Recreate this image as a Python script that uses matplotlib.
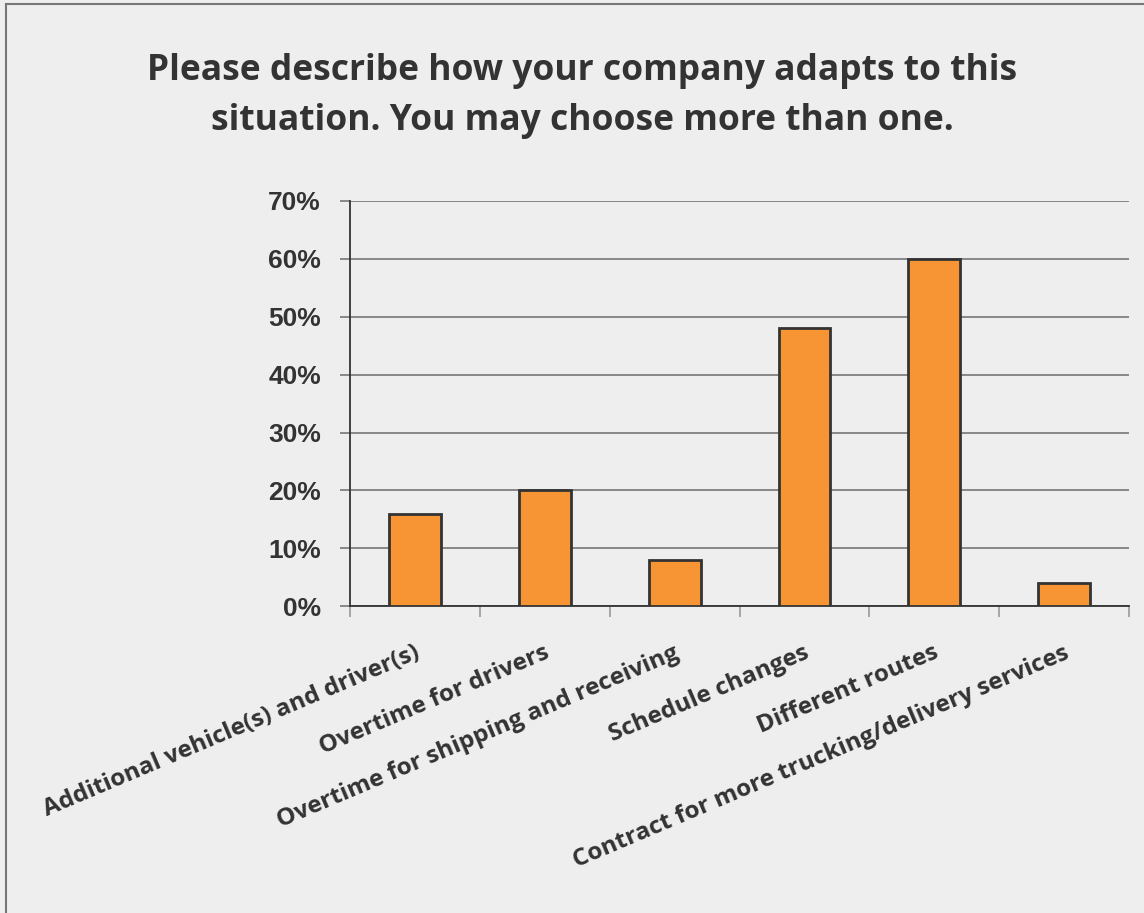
import matplotlib.pyplot as plt
from matplotlib.ticker import PercentFormatter, FixedLocator
import matplotlib.lines as mlines

categories = [
    "Additional vehicle(s) and driver(s)",
    "Overtime for drivers",
    "Overtime for shipping and receiving",
    "Schedule changes",
    "Different routes",
    "Contract for more trucking/delivery services",
]
values = [0.16, 0.20, 0.08, 0.48, 0.60, 0.04]
y_ticks = [0.0, 0.1, 0.2, 0.3, 0.4, 0.5, 0.6, 0.7]

bg = "#eeeeee"
fig = plt.figure(figsize=(11.44, 9.13), dpi=100, facecolor=bg)
ax = fig.add_axes([0.306, 0.336, 0.681, 0.444], facecolor=bg)

# border on top and left like the original frame
fig.add_artist(mlines.Line2D([0.0055, 0.0055], [0, 0.996], transform=fig.transFigure,
                             color="#777777", lw=1.5))
fig.add_artist(mlines.Line2D([0.0055, 1], [0.996, 0.996], transform=fig.transFigure,
                             color="#777777", lw=1.5))

x = list(range(len(categories)))
ax.bar(x, values, width=0.4, color="#f79433", edgecolor="#333333", linewidth=2, zorder=3)

ax.set_xlim(-0.5, len(categories) - 0.5)
ax.set_ylim(0, 0.7)
ax.set_yticks(y_ticks)
ax.yaxis.set_major_formatter(PercentFormatter(1.0, decimals=0))
ax.yaxis.grid(True, color="#777777", lw=1.2, zorder=0)
for lab in ax.get_yticklabels():
    lab.set_fontfamily("Liberation Sans")
    lab.set_fontweight("bold")
    lab.set_fontsize(19)
    lab.set_color("#333333")
ax.tick_params(axis="y", length=7, width=1.2, color="#777777", pad=14)

# category boundary ticks below x axis
ax.xaxis.set_major_locator(FixedLocator([i - 0.5 for i in range(len(categories) + 1)]))
ax.xaxis.set_major_formatter(plt.NullFormatter())
ax.tick_params(axis="x", length=8, width=1.2, color="#999999")

for i, c in enumerate(categories):
    ax.text(i - 0.01, -0.06, c, rotation=23, rotation_mode="anchor", ha="right", va="top",
            fontsize=17.5, fontfamily="Open Sans", fontweight="bold", color="#333333",
            transform=ax.transData, clip_on=False)

for s in ["top", "right"]:
    ax.spines[s].set_visible(False)
ax.spines["left"].set_color("#333333")
ax.spines["bottom"].set_color("#333333")
ax.spines["left"].set_linewidth(1.3)
ax.spines["bottom"].set_linewidth(1.3)

fig.text(0.509, 0.895, "Please describe how your company adapts to this\nsituation. You may choose more than one.",
         ha="center", va="center", fontsize=25.5, fontfamily="Open Sans", fontweight="bold",
         color="#333333", linespacing=1.54)

plt.savefig("out.png", dpi=100, facecolor=bg)
